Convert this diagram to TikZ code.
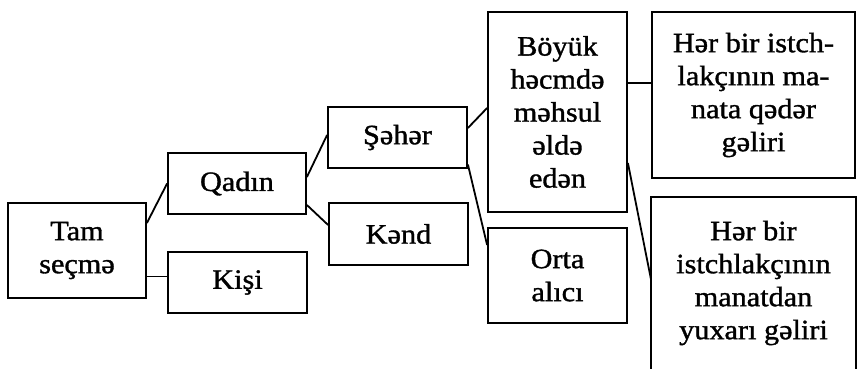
\documentclass[tikz,border=0pt]{standalone}
\usepackage{fontspec}
\setmainfont[FakeStretch=1.08, FakeBold=1.2]{Liberation Serif}
\usepackage{tikz}

\begin{document}
\begin{tikzpicture}[x=1pt, y=1pt]

% box styles
\tikzset{
  box/.style={rectangle, draw=black, line width=1.8pt, inner sep=0pt, align=center,
    font=\fontsize{28}{33}\selectfont},
  link/.style={line width=1.8pt}
}

\useasboundingbox (0,0) rectangle (858,369);

% ===== left part =====
\node[box, minimum width=138pt, minimum height=95pt] (tam) at (77,118.5) {Tam\\seçmə};
\node[box, minimum width=138pt, minimum height=61pt] (qadin) at (237,185.5) {Qadın};
\node[box, minimum width=139pt, minimum height=61pt] (kisi) at (237.5,86.5) {Kişi};

% ===== middle part =====
\node[box, minimum width=139pt, minimum height=61pt] (seher) at (397.5,231.5) {Şəhər};
\node[box, minimum width=139pt, minimum height=62pt] (kend) at (398.5,135) {Kənd};
\node[box, minimum width=139pt, minimum height=200pt] (boyuk) at (557.5,257)
  {Böyük\\həcmdə\\məhsul\\əldə\\edən};
\node[box, minimum width=139pt, minimum height=95pt] (orta) at (557.5,93.5) {Orta\\alıcı};

% ===== right part =====
\node[box, minimum width=203pt, minimum height=166pt] (gelir1) at (753.5,274)
  {Hər bir istch-\\lakçının ma-\\nata qədər\\gəliri};
\node[box, draw=none, minimum width=203pt, minimum height=170pt] (gelir2) at (753.5,86)
  {Hər bir\\istchlakçının\\manatdan\\yuxarı gəliri};
\draw[link] (gelir2.south west) -- (gelir2.north west) -- (gelir2.north east) -- (gelir2.south east);

% ===== connectors =====
\foreach \a/\sa/\b/\sb in {tam/27.5/qadin/0, tam/-26/kisi/6, qadin/6.5/seher/2.5,
  qadin/-21.5/kend/9, seher/9.5/boyuk/4, seher/-27/orta/30.5,
  boyuk/29/gelir1/12, boyuk/-51/gelir2/3} {
  \draw[link] ([yshift=\sa pt]\a.east) -- ([yshift=\sb pt]\b.west);
}

\end{tikzpicture}
\end{document}
